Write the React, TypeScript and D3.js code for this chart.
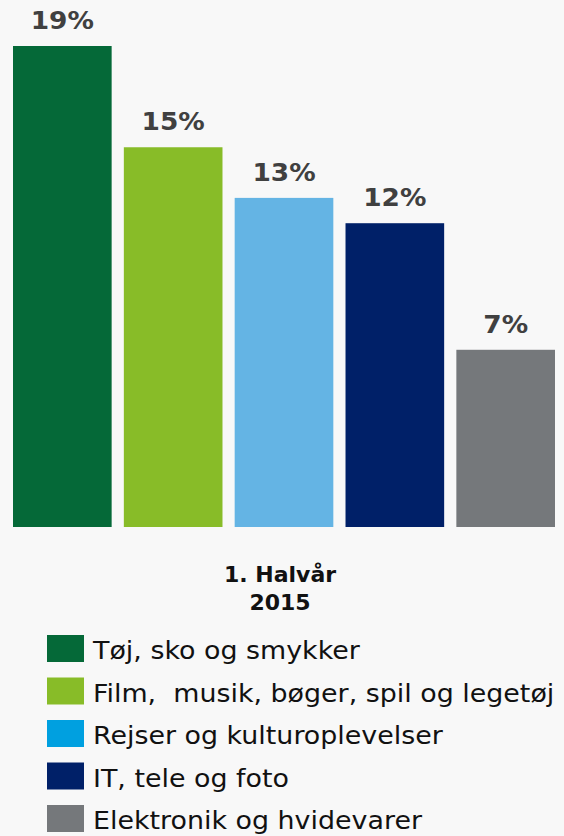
import React from "react";
import * as d3 from "d3";

const categories = [
  "Tøj, sko og smykker",
  "Film,  musik, bøger, spil og legetøj",
  "Rejser og kulturoplevelser",
  "IT, tele og foto",
  "Elektronik og hvidevarer",
];
const values = [19, 15, 13, 12, 7];
const barColors = ["#056938", "#88bc28", "#64b4e4", "#002068", "#75787b"];
const legendColors = ["#056938", "#88bc28", "#00a0e0", "#002068", "#75787b"];
const axisLabel = ["1. Halvår", "2015"];

const W = 564;
const H = 836;
const FONT = "'DejaVu Sans', Verdana, sans-serif";
const SX = 1.1;
const LSX = 1.12;

export default function App() {
  const x = d3
    .scaleBand<number>()
    .domain(values.map((_, i) => i))
    .range([13, 555])
    .paddingInner(0.11)
    .paddingOuter(0);
  const y = d3.scaleLinear().domain([0, 19]).range([527, 46]);

  const legendY = d3
    .scaleLinear()
    .domain([0, 4])
    .range([635, 805]);

  return (
    <svg
      width={W}
      height={H}
      style={{ position: "absolute", left: 0, top: 0 }}
      fontFamily={FONT}
    >
      <rect x={0} y={0} width={W} height={H} fill="#f8f8f8" />
      {values.map((v, i) => {
        const bx = x(i)!;
        const cx = bx + x.bandwidth() / 2;
        const ty = y(v) - 17;
        return (
          <g key={i}>
            <rect
              x={bx}
              y={y(v)}
              width={x.bandwidth()}
              height={y(0) - y(v)}
              fill={barColors[i]}
            />
            <text
              transform={`translate(${cx},${ty}) scale(${SX},1)`}
              textAnchor="middle"
              fontSize={24}
              fontWeight="bold"
              fill="#404040"
            >
              {v}%
            </text>
          </g>
        );
      })}
      {axisLabel.map((t, i) => (
        <text
          key={t}
          transform={`translate(280,${582 + i * 28}) scale(1.0,1)`}
          textAnchor="middle"
          fontSize={22}
          fontWeight="bold"
          fill="#111"
        >
          {t}
        </text>
      ))}
      {categories.map((c, i) => (
        <g key={c}>
          <rect
            x={47}
            y={legendY(i)}
            width={37}
            height={27}
            fill={legendColors[i]}
          />
          <text
            transform={`translate(93,${legendY(i) + 24}) scale(${LSX},1)`}
            fontSize={24}
            fill="#111"
            style={{ whiteSpace: "pre" }}
          >
            {c}
          </text>
        </g>
      ))}
    </svg>
  );
}
